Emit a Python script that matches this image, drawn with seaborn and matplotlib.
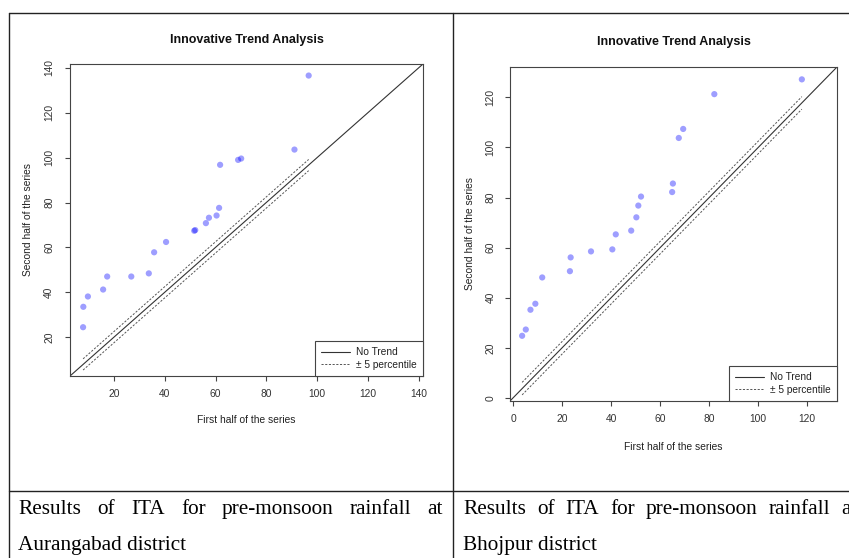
import numpy as np
import pandas as pd
import matplotlib
matplotlib.use("Agg")
import matplotlib.pyplot as plt
import seaborn as sns
from matplotlib.lines import Line2D

# ---------------- data ----------------
aur_first = [7.8, 7.9, 9.7, 15.7, 17.3, 26.8, 33.7, 35.8, 40.5, 51.6, 52.0,
             56.2, 57.4, 60.4, 61.4, 61.8, 68.9, 70.1, 91.1, 96.7]
aur_second = [24.4, 33.5, 38.1, 41.2, 47.0, 47.0, 48.4, 57.8, 62.4, 67.4, 67.7,
              70.8, 73.2, 74.2, 77.6, 96.8, 99.0, 99.6, 103.6, 136.6]

bho_first = [3.7, 5.2, 7.1, 9.1, 11.9, 23.2, 23.5, 31.8, 40.5, 41.9, 48.2,
             50.3, 51.1, 52.2, 64.9, 65.2, 67.6, 69.4, 82.1, 117.8]
bho_second = [24.8, 27.3, 35.2, 37.6, 48.1, 50.6, 56.1, 58.5, 59.3, 65.3, 66.8,
              72.1, 76.8, 80.4, 82.2, 85.6, 103.8, 107.4, 121.3, 127.2]

aur_ticks = [20, 40, 60, 80, 100, 120, 140]
bho_ticks = [0, 20, 40, 60, 80, 100, 120]
band_width = 2.5  # +/- 5 percentile offset

title_text = "Innovative Trend Analysis"
xlabel_text = "First half of the series"
ylabel_text = "Second half of the series"
legend_labels = ["No Trend", "\u00b1 5 percentile"]
captions = [
    (["Results", "of", "ITA", "for", "pre-monsoon", "rainfall", "at"], "Aurangabad district"),
    (["Results", "of", "ITA", "for", "pre-monsoon", "rainfall", "at"], "Bhojpur district"),
]

# ---------------- figure ----------------
sns.set_theme(style="white")
plt.rcParams["font.family"] = ["Liberation Sans", "DejaVu Sans"]

W, H = 849, 558
fig = plt.figure(figsize=(W / 100, H / 100), dpi=100)
fig.patch.set_facecolor("white")


def fx(px):
    return px / W


def fy(py):
    return 1 - py / H


def ita_panel(rect, first, second, ticks, title_y, xlab_y, ylab_x, ytick_pad, xtick_pad):
    left, top, right, bottom = rect
    ax = fig.add_axes([fx(left), fy(bottom), fx(right - left), (bottom - top) / H])
    df = pd.DataFrame({"first": first, "second": second})
    sns.scatterplot(data=df, x="first", y="second", ax=ax, color="blue", alpha=0.38,
                    s=20, edgecolor="none", legend=False, zorder=3)
    allv = np.array(first + second)
    lo, hi = allv.min(), allv.max()
    r = hi - lo
    lim = (lo - 0.04 * r, hi + 0.04 * r)
    ax.set_xlim(lim)
    ax.set_ylim(lim)
    ax.plot(lim, lim, color="#333333", lw=0.8, zorder=2)
    xs = np.array([min(first), max(first)])
    ax.plot(xs, xs + band_width, color="#555555", lw=0.7, dashes=(2.2, 1.6), zorder=2)
    ax.plot(xs, xs - band_width, color="#555555", lw=0.7, dashes=(2.2, 1.6), zorder=2)

    ax.set_xticks(ticks)
    ax.set_yticks(ticks)
    ax.tick_params(axis="both", direction="out", length=3.5, width=0.8, color="#444444",
                   labelsize=7.4, labelcolor="#333333", bottom=True, left=True)
    ax.tick_params(axis="x", pad=xtick_pad)
    ax.tick_params(axis="y", pad=ytick_pad, labelrotation=90)
    for lab in ax.get_yticklabels():
        lab.set_va("center")
    for sp in ax.spines.values():
        sp.set_color("#444444")
        sp.set_linewidth(0.8)

    ax.set_xlabel(xlabel_text, fontsize=7.4, color="#222222")
    ax.set_ylabel(ylabel_text, fontsize=7.4, color="#222222")
    ax.xaxis.set_label_coords((((left + right) / 2) - left) / (right - left),
                              (bottom - xlab_y) / (bottom - top))
    ax.xaxis.label.set_va("center")
    ax.yaxis.set_label_coords((ylab_x - left) / (right - left), 0.5)
    ax.yaxis.label.set_va("center")
    ax.yaxis.label.set_ha("center")

    fig.text(fx((left + right) / 2), fy(title_y), title_text, ha="center", va="center",
             fontsize=9.0, fontweight="bold", color="#111111")

    handles = [Line2D([], [], color="#333333", lw=0.8),
               Line2D([], [], color="#555555", lw=0.7, dashes=(2.2, 1.6))]
    leg = ax.legend(handles, legend_labels, loc="lower right", bbox_to_anchor=(1, 0),
                    borderaxespad=0, fancybox=False, framealpha=1, edgecolor="#444444",
                    fontsize=7.3, handlelength=2.9, handletextpad=0.6,
                    labelspacing=0.25, borderpad=0.6)
    leg.get_frame().set_linewidth(0.8)
    for t in leg.get_texts():
        t.set_color("#222222")
    return ax


ita_panel((70, 64, 423, 376), aur_first, aur_second, aur_ticks,
          title_y=40, xlab_y=420, ylab_x=28, ytick_pad=8, xtick_pad=6)
ita_panel((510, 67, 837, 401), bho_first, bho_second, bho_ticks,
          title_y=42, xlab_y=447, ylab_x=470, ytick_pad=7, xtick_pad=6)

# ---------------- table lines ----------------
line_kw = dict(color="#222222", lw=1.0, transform=fig.transFigure)
fig.add_artist(Line2D([fx(9), fx(W)], [fy(13), fy(13)], **line_kw))
fig.add_artist(Line2D([fx(9), fx(W)], [fy(491), fy(491)], **line_kw))
fig.add_artist(Line2D([fx(9), fx(9)], [fy(13), 0], **line_kw))
fig.add_artist(Line2D([fx(453), fx(453)], [fy(13), 0], **line_kw))

# ---------------- captions (justified) ----------------
cap_font = dict(family=["Liberation Serif", "DejaVu Serif"], size=15.3, color="#000000")
renderer = fig.canvas.get_renderer()


def justified(words, x0, x1, y):
    texts = [fig.text(0, fy(y), w, ha="left", va="baseline", **cap_font) for w in words]
    widths = [t.get_window_extent(renderer).width for t in texts]
    gap = (x1 - x0 - sum(widths)) / (len(words) - 1)
    x = x0
    for t, w in zip(texts, widths):
        t.set_x(fx(x))
        x += w + gap


justified(captions[0][0], 18, 443, 514)
fig.text(fx(18), fy(550), captions[0][1], ha="left", va="baseline", **cap_font)
justified(captions[1][0], 463, 857, 514)
fig.text(fx(463), fy(550), captions[1][1], ha="left", va="baseline", **cap_font)

fig.savefig("out.png", dpi=100)
